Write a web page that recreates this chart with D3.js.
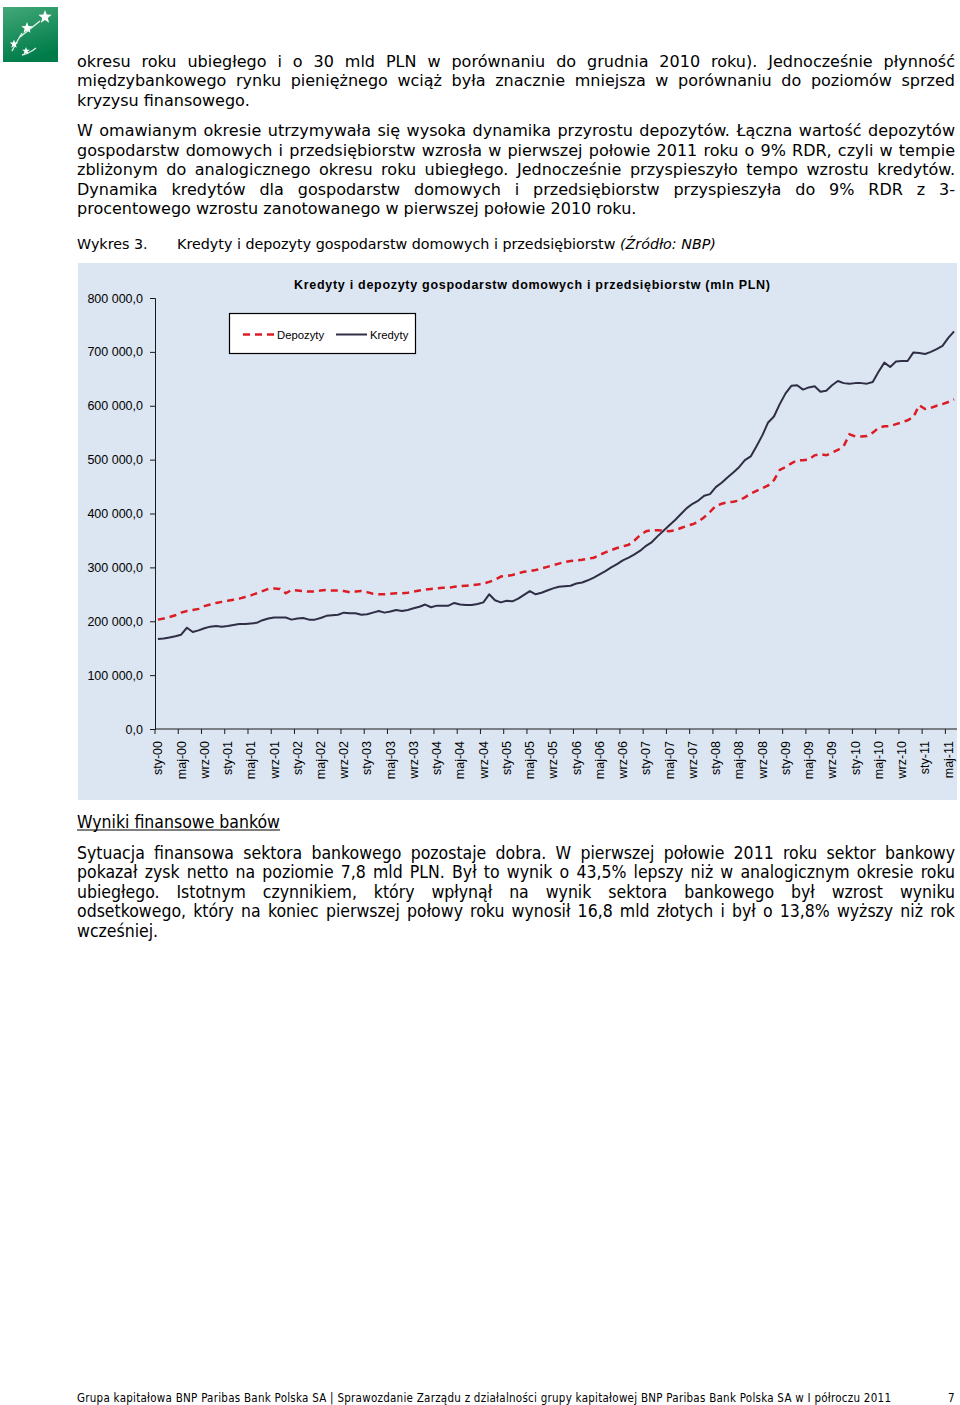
<!DOCTYPE html>
<html><head><meta charset="utf-8">
<script src="https://cdnjs.cloudflare.com/ajax/libs/d3/7.8.5/d3.min.js"></script>
<style>
html,body{margin:0;padding:0;background:#fff;}
svg{display:block;}
</style></head><body>
<svg id="page" width="960" height="1405"></svg>
<script>
// ---------- DATA ----------
const monthNames = ["sty","lut","mar","kwi","maj","cze","lip","sie","wrz","paź","lis","gru"];
const yearLabels = ["00","01","02","03","04","05","06","07","08","09","10","11"];
const monthsInLastYear = 6;
const seriesNames = ["Depozyty","Kredyty"];
// mln PLN, monthly Jan 2000 - Jun 2011
const depozyty = [
203000,205000,208000,211000,216000,219000,221000,223000,228000,231000,234000,236000,
238000,240000,242000,245000,248000,252000,256000,260000,261000,260000,252000,258000,
257000,256000,255000,255000,257000,258000,257000,257000,256000,254000,255000,256000,
254000,251000,250000,250000,251000,252000,252000,253000,255000,257000,259000,260000,
261000,262000,262000,264000,265000,266000,267000,268000,270000,273000,277000,283000,
284000,286000,289000,292000,293000,295000,298000,301000,304000,307000,310000,312000,
313000,314000,316000,318000,323000,328000,332000,336000,339000,342000,350000,360000,
367000,369000,369000,368000,367000,369000,373000,377000,380000,385000,393000,403000,
414000,418000,421000,422000,424000,430000,437000,442000,447000,452000,462000,481000,
486000,493000,499000,499000,500000,508000,510000,508000,513000,518000,525000,547000,
543000,543000,544000,550000,559000,562000,562000,566000,569000,573000,579000,601000,
594000,596000,600000,603000,607000,612000];
const kredyty = [
167000,168000,170000,172000,175000,188000,180000,183000,187000,190000,191000,190000,
191000,193000,195000,195000,196000,197000,202000,205000,207000,207000,207000,203000,
205000,206000,203000,203000,206000,210000,211000,212000,216000,215000,215000,212000,
213000,216000,219000,216000,218000,221000,219000,221000,224000,227000,231000,226000,
229000,229000,229000,234000,231000,230000,230000,232000,235000,250000,239000,235000,
238000,237000,242000,249000,256000,250000,253000,257000,261000,264000,265000,266000,
270000,272000,276000,281000,287000,293000,300000,306000,313000,318000,324000,331000,
340000,347000,358000,368000,378000,388000,399000,410000,418000,424000,433000,436000,
449000,457000,467000,476000,486000,499000,506000,525000,545000,569000,580000,603000,
623000,637000,638000,630000,634000,636000,626000,628000,638000,646000,642000,641000,
642000,642000,641000,644000,663000,680000,672000,682000,683000,683000,699000,698000,
696000,700000,705000,711000,726000,738000];
const yTicks = [0,100000,200000,300000,400000,500000,600000,700000,800000];
const labelEvery = 4;

const categories = [];
yearLabels.forEach((y,yi)=>{
  const n = yi===yearLabels.length-1 ? monthsInLastYear : 12;
  for(let m=0;m<n;m++) categories.push(monthNames[m]+"-"+y);
});

// ---------- TEXT ----------
const para1 = [
 "okresu roku ubiegłego i o 30 mld PLN w porównaniu do grudnia 2010 roku). Jednocześnie płynność",
 "międzybankowego rynku pieniężnego wciąż była znacznie mniejsza w porównaniu do poziomów sprzed",
 "kryzysu finansowego."];
const para2 = [
 "W omawianym okresie utrzymywała się wysoka dynamika przyrostu depozytów. Łączna wartość depozytów",
 "gospodarstw domowych i przedsiębiorstw wzrosła w pierwszej połowie 2011 roku o 9% RDR, czyli w tempie",
 "zbliżonym do analogicznego okresu roku ubiegłego. Jednocześnie przyspieszyło tempo wzrostu kredytów.",
 "Dynamika kredytów dla gospodarstw domowych i przedsiębiorstw przyspieszyła do 9% RDR z 3-",
 "procentowego wzrostu zanotowanego w pierwszej połowie 2010 roku."];
const para3 = [
 "Sytuacja finansowa sektora bankowego pozostaje dobra. W pierwszej połowie 2011 roku sektor bankowy",
 "pokazał zysk netto na poziomie 7,8 mld PLN. Był to wynik o 43,5% lepszy niż w analogicznym okresie roku",
 "ubiegłego. Istotnym czynnikiem, który wpłynął na wynik sektora bankowego był wzrost wyniku",
 "odsetkowego, który na koniec pierwszej połowy roku wynosił 16,8 mld złotych i był o 13,8% wyższy niż rok",
 "wcześniej."];
const footerText = "Grupa kapitałowa BNP Paribas Bank Polska SA | Sprawozdanie Zarządu z działalności grupy kapitałowej BNP Paribas Bank Polska SA w I półroczu 2011";
const pageNo = "7";
const chartTitle = "Kredyty i depozyty gospodarstw domowych i przedsiębiorstw (mln PLN)";

// ---------- PAGE ----------
const svg = d3.select("#page");
const defs = svg.append("defs");
const lg = defs.append("linearGradient").attr("id","lg").attr("x1",0).attr("y1",0).attr("x2",0.3).attr("y2",1);
lg.append("stop").attr("offset","0%").attr("stop-color","#43a878");
lg.append("stop").attr("offset","100%").attr("stop-color","#007c4a");

// logo
const logo = svg.append("g");
logo.append("rect").attr("x",3).attr("y",7).attr("width",55).attr("height",55).attr("fill","url(#lg)");
function star(cx,cy,r){
  const pts=[];
  for(let i=0;i<10;i++){const a=-Math.PI/2+i*Math.PI/5;const rr=i%2?r*0.42:r;pts.push([cx+rr*Math.cos(a),cy+rr*Math.sin(a)]);}
  return "M"+pts.join("L")+"Z";
}
[[45,17,7],[27,28,6],[14,44,4.5],[26,51,4]].forEach(s=>logo.append("path").attr("d",star(...s)).attr("fill","#fff"));
logo.append("path").attr("d","M20,37 Q30,29 40,21").attr("stroke","#fff").attr("stroke-width",1.6).attr("fill","none").attr("opacity",0.85);
logo.append("path").attr("d","M12,51 Q16,43 22,33").attr("stroke","#fff").attr("stroke-width",1.4).attr("fill","none").attr("opacity",0.85);
logo.append("path").attr("d","M22,55 Q30,53 36,48").attr("stroke","#fff").attr("stroke-width",1.4).attr("fill","none").attr("opacity",0.85);

const L = 77, R = 955;
function textLine(str, y, opts){
  const t = svg.append("text").attr("x",opts.x||L).attr("y",y)
    .attr("font-family",opts.family).attr("font-size",opts.size)
    .attr("fill","#000").text(str);
  if(opts.stretch) t.style("font-stretch",opts.stretch);
  if(opts.justify){
    const w = t.node().getComputedTextLength();
    const n = (str.match(/ /g)||[]).length;
    if(n) t.style("word-spacing",((R-L)-w)/n+"px");
  }
  return t;
}
const bodyFont = {family:"'DejaVu Sans', Verdana, sans-serif", size:16};
para1.forEach((s,i)=>textLine(s, 66.5+i*19.5, Object.assign({justify:i<para1.length-1},bodyFont)));
para2.forEach((s,i)=>textLine(s, 136+i*19.5, Object.assign({justify:i<para2.length-1},bodyFont)));

// caption
svg.append("text").attr("x",L).attr("y",249).attr("font-family","'DejaVu Sans', sans-serif").attr("font-size",14.3).text("Wykres 3.");
const cap = svg.append("text").attr("x",177).attr("y",249).attr("font-family","'DejaVu Sans', sans-serif").attr("font-size",14.3);
cap.append("tspan").text("Kredyty i depozyty gospodarstw domowych i przedsiębiorstw ");
cap.append("tspan").attr("font-style","italic").text("(Źródło: NBP)");

// ---------- CHART ----------
const panel = {x:78, y:263, w:879, h:537};
svg.append("rect").attr("x",panel.x).attr("y",panel.y).attr("width",panel.w).attr("height",panel.h).attr("fill","#dce6f2");

const plot = {left:155, right:957, top:298, bottom:729};
const x = d3.scaleBand().domain(categories).range([plot.left, plot.right]).padding(0);
const y = d3.scaleLinear().domain([0,800000]).range([plot.bottom, plot.top]);
const loc = d3.formatLocale({decimal:",", thousands:" ", grouping:[3], currency:["","PLN"]});
const fmt = loc.format(",.1f");
const chartFont = "'Liberation Sans', Arial, sans-serif";

// y axis
const yAxis = svg.append("g").attr("transform",`translate(${plot.left},0)`)
  .call(d3.axisLeft(y).tickValues(yTicks).tickSize(5).tickPadding(7).tickFormat(fmt));
yAxis.attr("font-family",chartFont);
yAxis.selectAll("text").attr("font-family",chartFont).attr("font-size",12.5).attr("fill","#000");
yAxis.selectAll("line,path").attr("stroke","#1a1a1a");

// x axis
const labelCats = categories.filter((c,i)=>i%labelEvery===0);
const xAxis = svg.append("g").attr("transform",`translate(0,${plot.bottom})`)
  .call(d3.axisBottom(x).tickValues(labelCats).tickSize(0).tickPadding(0));
xAxis.attr("font-family",chartFont);
xAxis.select(".domain").attr("stroke","#1a1a1a").attr("d",`M${plot.left},0H${plot.right}`);
xAxis.selectAll(".tick text")
  .attr("font-family",chartFont).attr("font-size",12.5).attr("fill","#000")
  .attr("text-anchor","end").attr("transform","rotate(-90)")
  .attr("x",-12).attr("y",0).attr("dy","0.35em");
xAxis.selectAll(".tickmark").data(labelCats).enter().append("line")
  .attr("x1",d=>x(d)).attr("x2",d=>x(d)).attr("y1",0).attr("y2",5).attr("stroke","#1a1a1a");

// lines
const line = d3.line().x((d,i)=>x(categories[i])+x.bandwidth()/2).y(d=>y(d));
svg.append("path").datum(kredyty).attr("d",line).attr("fill","none")
  .attr("stroke","#2f2e45").attr("stroke-width",2).attr("stroke-linejoin","round");
svg.append("path").datum(depozyty).attr("d",line).attr("fill","none")
  .attr("stroke","#dc1c24").attr("stroke-width",2.5).attr("stroke-dasharray","7,5");

// title
svg.append("text").attr("x",294).attr("y",288.5).attr("font-family",chartFont).attr("font-size",12.5)
  .attr("font-weight","bold").attr("textLength",476).attr("lengthAdjust","spacing").text(chartTitle);

// legend
const leg = svg.append("g");
leg.append("rect").attr("x",229.5).attr("y",313.5).attr("width",186).attr("height",40)
  .attr("fill","#fff").attr("stroke","#000").attr("stroke-width",1.2);
const legItems = [
  {name:seriesNames[0], x1:243, x2:274, tx:277, color:"#dc1c24", w:2.5, dash:"7,5"},
  {name:seriesNames[1], x1:336, x2:367, tx:370, color:"#2f2e45", w:2, dash:null}];
legItems.forEach(it=>{
  const l = leg.append("line").attr("x1",it.x1).attr("x2",it.x2).attr("y1",334.5).attr("y2",334.5)
    .attr("stroke",it.color).attr("stroke-width",it.w);
  if(it.dash) l.attr("stroke-dasharray",it.dash);
  leg.append("text").attr("x",it.tx).attr("y",338.5).attr("font-family",chartFont).attr("font-size",11.3).text(it.name);
});

// ---------- SECTION 2 ----------
const condFont = {family:"'DejaVu Sans Condensed', 'DejaVu Sans', sans-serif", size:17.5, stretch:"condensed"};
const head = textLine("Wyniki finansowe banków", 827.5, condFont);
const hw = head.node().getComputedTextLength();
svg.append("line").attr("x1",L).attr("x2",L+hw).attr("y1",830).attr("y2",830).attr("stroke","#000").attr("stroke-width",1.2);
para3.forEach((s,i)=>textLine(s, 858.5+i*19.5, Object.assign({justify:i<para3.length-1},condFont)));

// footer
svg.append("text").attr("x",L).attr("y",1402).attr("font-family","'DejaVu Sans Condensed', 'DejaVu Sans', sans-serif")
  .style("font-stretch","condensed").attr("font-size",11.5).attr("textLength",814).attr("lengthAdjust","spacing").text(footerText);
svg.append("text").attr("x",948).attr("y",1402).attr("font-family","'DejaVu Sans Condensed', 'DejaVu Sans', sans-serif")
  .style("font-stretch","condensed").attr("font-size",11.5).text(pageNo);
</script>
</body></html>
